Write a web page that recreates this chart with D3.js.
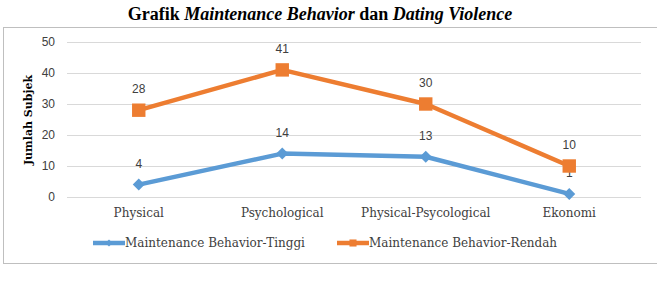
<!DOCTYPE html>
<html>
<head>
<meta charset="utf-8">
<script src="https://cdn.jsdelivr.net/npm/d3@7"></script>
<style>
  body { margin: 0; background: #fff; }
  svg { display: block; }
</style>
</head>
<body>
<svg id="canvas" width="657" height="290"></svg>
<script>
// data
var categories = ['Physical', 'Psychological', 'Physical-Psycological', 'Ekonomi'];
var tinggi = [4, 14, 13, 1];
var rendah = [28, 41, 30, 10];
var yTicks = [0, 10, 20, 30, 40, 50];
var seriesNames = ['Maintenance Behavior-Tinggi', 'Maintenance Behavior-Rendah'];

var svg = d3.select('#canvas');
var blue = '#5b9bd5', orange = '#ed7d31';
var serif = '"DejaVu Serif", serif';

// title
var t = svg.append('text')
  .attr('x', 320).attr('y', 20)
  .attr('text-anchor', 'middle')
  .style('font-family', '"Liberation Serif", "Times New Roman", serif')
  .style('font-size', '18px').style('font-weight', 'bold').style('fill', '#000');
t.append('tspan').text('Grafik ');
t.append('tspan').style('font-style', 'italic').text('Maintenance Behavior');
t.append('tspan').text(' dan ');
t.append('tspan').style('font-style', 'italic').text('Dating Violence');

// chart frame
svg.append('rect')
  .attr('x', 3.5).attr('y', 27.5).attr('width', 670).attr('height', 236)
  .style('fill', 'none').style('stroke', '#bfbfbf').style('stroke-width', 1);

var plot = { left: 67, right: 641, top: 42, bottom: 197 };

var x = d3.scaleBand().domain(categories).range([plot.left, plot.right]);
var y = d3.scaleLinear().domain([0, 50]).range([plot.bottom, plot.top]);

// grid
svg.append('g').selectAll('line').data(yTicks).join('line')
  .attr('x1', plot.left).attr('x2', plot.right)
  .attr('y1', function(d){ return Math.round(y(d)) + 0.5; })
  .attr('y2', function(d){ return Math.round(y(d)) + 0.5; })
  .style('stroke', '#d9d9d9').style('stroke-width', 1);

// y tick labels
svg.append('g').selectAll('text').data(yTicks).join('text')
  .attr('x', 55).attr('y', function(d){ return y(d) + 4; })
  .attr('text-anchor', 'end')
  .style('font-family', '"Liberation Sans", Arial, sans-serif')
  .style('font-size', '12px').style('fill', '#404040')
  .text(function(d){ return d; });

// y title
svg.append('text')
  .attr('transform', 'translate(32,120) rotate(-90)')
  .attr('text-anchor', 'middle')
  .style('font-family', serif)
  .style('font-size', '11px').style('font-weight', 'bold').style('fill', '#000')
  .text('Jumlah Subjek');

// x labels
svg.append('g').selectAll('text').data(categories).join('text')
  .attr('x', function(d){ return x(d) + x.bandwidth()/2; })
  .attr('y', 217)
  .attr('text-anchor', 'middle')
  .style('font-family', serif)
  .style('font-size', '12px').style('fill', '#404040')
  .text(function(d){ return d; });

var cx = function(d, i){ return x(categories[i]) + x.bandwidth()/2; };
var lineGen = d3.line().x(function(d, i){ return cx(d, i); }).y(function(d){ return y(d); });

function drawSeries(values, color, size, rot) {
  var g = svg.append('g');
  g.append('path').attr('d', lineGen(values))
    .style('fill', 'none').style('stroke', color).style('stroke-width', 4.5)
    .style('stroke-linejoin', 'round');
  g.selectAll('path.m').data(values).join('path').attr('class', 'm')
    .attr('d', d3.symbol().type(d3.symbolSquare).size(size))
    .attr('transform', function(d, i){ return 'translate(' + cx(d, i) + ',' + y(d) + ') rotate(' + rot + ')'; })
    .style('fill', color);
  g.selectAll('text').data(values).join('text')
    .attr('x', function(d, i){ return cx(d, i); })
    .attr('y', function(d){ return y(d) - 17; })
    .attr('text-anchor', 'middle')
    .style('font-family', '"Liberation Sans", Arial, sans-serif')
    .style('font-size', '12px').style('fill', '#404040')
    .text(function(d){ return d; });
}

drawSeries(tinggi, blue, 72, 45);
drawSeries(rendah, orange, 180, 0);

// legend
var legend = [
  { name: seriesNames[0], color: blue, x0: 93, size: 24, rot: 45 },
  { name: seriesNames[1], color: orange, x0: 337, size: 50, rot: 0 }
];
var lg = svg.append('g').selectAll('g').data(legend).join('g')
  .attr('transform', function(d){ return 'translate(' + d.x0 + ',243)'; });
lg.append('line').attr('x1', 0).attr('x2', 32).attr('y1', 0).attr('y2', 0)
  .style('stroke', function(d){ return d.color; }).style('stroke-width', 4.5);
lg.append('path')
  .attr('d', function(d){ return d3.symbol().type(d3.symbolSquare).size(d.size)(); })
  .attr('transform', function(d){ return 'translate(16,0) rotate(' + d.rot + ')'; })
  .style('fill', function(d){ return d.color; });
lg.append('text').attr('x', 32).attr('y', 4)
  .style('font-family', serif)
  .style('font-size', '12px').style('fill', '#404040')
  .text(function(d){ return d.name; });
</script>
</body>
</html>
